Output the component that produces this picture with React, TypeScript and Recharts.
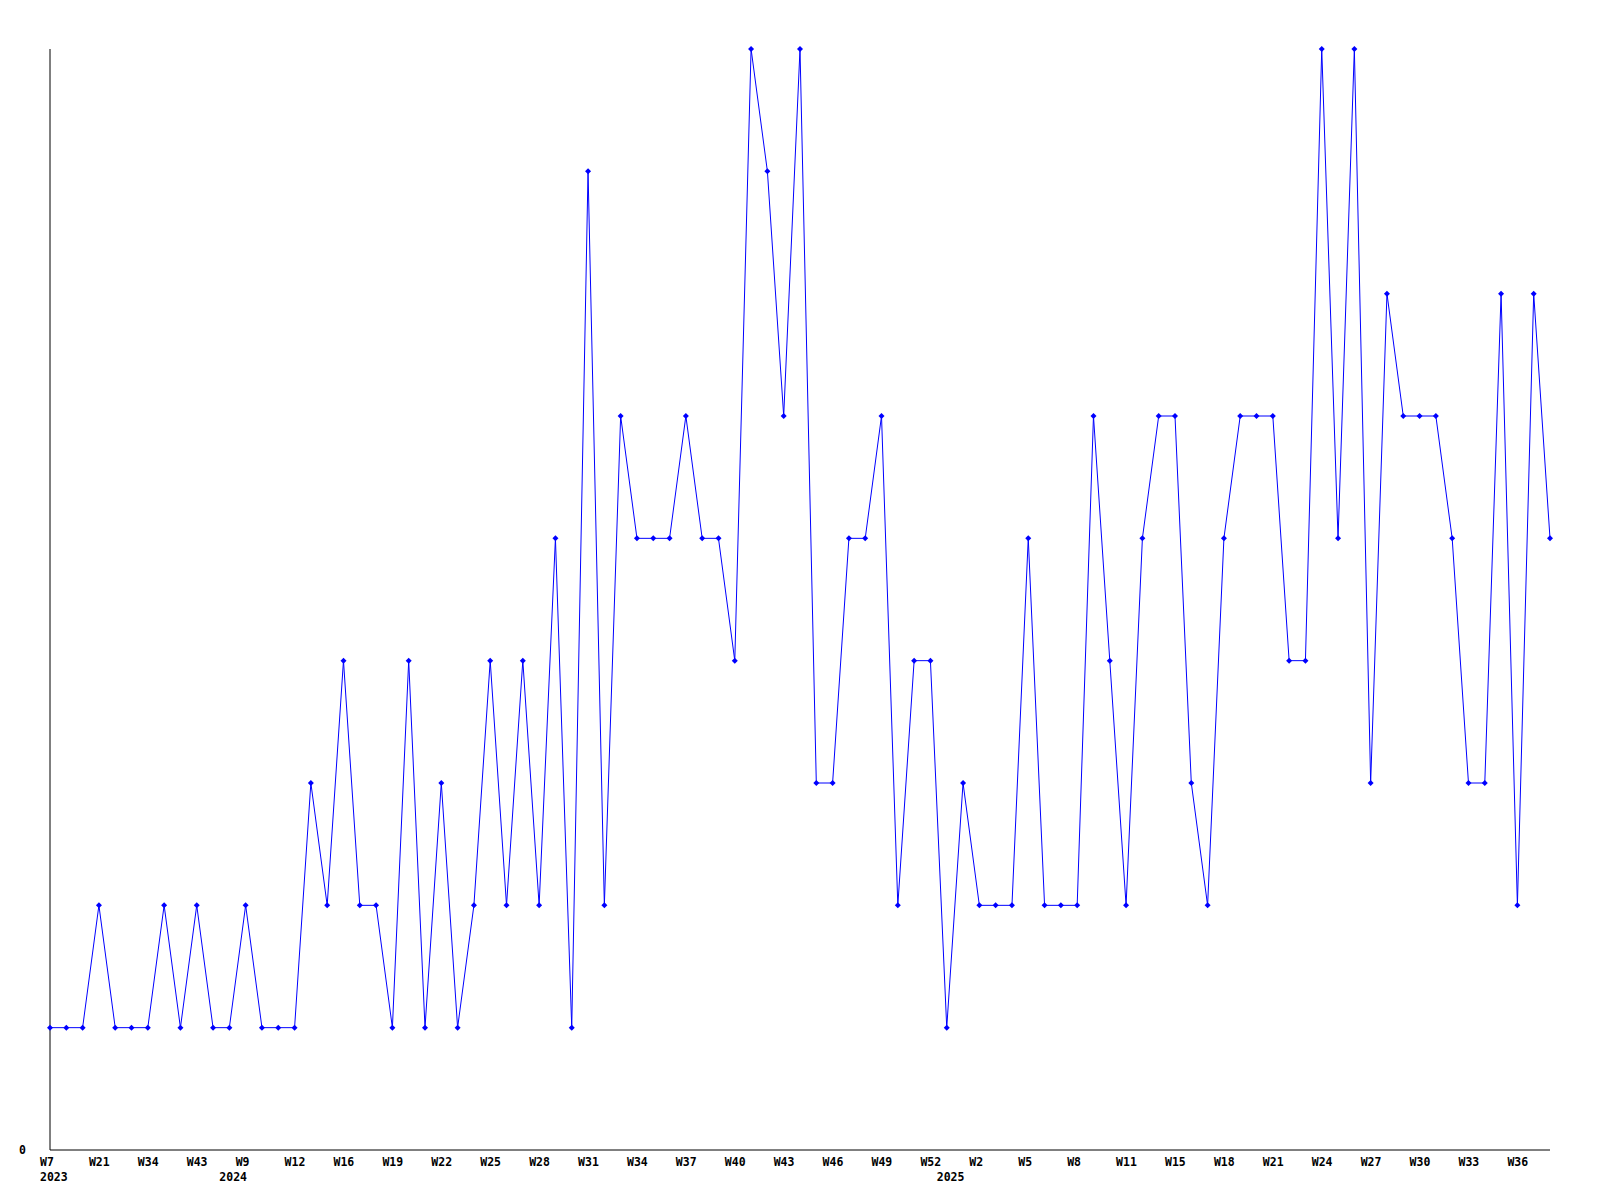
import React from "react";
import { LineChart, Line, XAxis, YAxis } from "recharts";

const weeks: string[] = [
  "W7", "W12", "W17", "W21", "W25", "W30", "W34", "W37", "W40", "W43", "W48",
  "W4", "W9", "W10", "W11", "W12", "W13", "W15", "W16", "W17", "W18", "W19",
  "W20", "W21", "W22", "W23", "W24", "W25", "W26", "W27", "W28", "W29", "W30",
  "W31", "W32", "W33", "W34", "W35", "W36", "W37", "W38", "W39", "W40", "W41",
  "W42", "W43", "W44", "W45", "W46", "W47", "W48", "W49", "W50", "W51", "W52",
  "W0", "W1", "W2", "W3", "W4", "W5", "W6", "W7", "W8", "W9", "W10",
  "W11", "W12", "W14", "W15", "W16", "W17", "W18", "W19", "W20", "W21", "W22",
  "W23", "W24", "W25", "W26", "W27", "W28", "W29", "W30", "W31", "W32", "W33",
  "W34", "W35", "W36", "W37", "W38",
];

const years: string[] = [
  ...Array(11).fill("2023"),
  ...Array(44).fill("2024"),
  ...Array(38).fill("2025"),
];

const values: number[] = [
  1, 1, 1, 2, 1, 1, 1, 2, 1, 2, 1, 1, 2, 1, 1, 1, 3, 2, 4, 2, 2, 1, 4, 1, 3, 1,
  2, 4, 2, 4, 2, 5, 1, 8, 2, 6, 5, 5, 5, 6, 5, 5, 4, 9, 8, 6, 9, 3, 3, 5, 5, 6,
  2, 4, 4, 1, 3, 2, 2, 2, 5, 2, 2, 2, 6, 4, 2, 5, 6, 6, 3, 2, 5, 6, 6, 6, 4, 4,
  9, 5, 9, 3, 7, 6, 6, 6, 5, 3, 3, 7, 2, 7, 5,
];

const yTicks: number[] = [0];

const data = values.map((v, i) => ({ i, week: weeks[i], year: years[i], value: v }));

const yearStart = new Set<number>(
  years.map((y, i) => (i === 0 || years[i - 1] !== y ? i : -1)).filter((i) => i >= 0)
);
const weekTicks = data.filter((d) => d.i % 3 === 0).map((d) => d.i);
const xTicks = Array.from(new Set([...weekTicks, ...yearStart])).sort((a, b) => a - b);

const FONT = "'DejaVu Sans Mono', monospace";

const XTick = (props: any) => {
  const { x, y, payload } = props;
  const idx = payload.value as number;
  return (
    <g>
      {idx % 3 === 0 && (
        <text x={x - 10} y={y + 16} textAnchor="start" fontFamily={FONT} fontWeight="bold" fontSize={11.5} fill="#000">
          {weeks[idx]}
        </text>
      )}
      {yearStart.has(idx) && (
        <text x={x - 10} y={y + 31} textAnchor="start" fontFamily={FONT} fontWeight="bold" fontSize={11.5} fill="#000">
          {years[idx]}
        </text>
      )}
    </g>
  );
};

const YTick = (props: any) => {
  const { x, y, payload } = props;
  return (
    <text x={x} y={y + 4} textAnchor="end" fontFamily={FONT} fontWeight="bold" fontSize={11.5} fill="#000">
      {payload.value}
    </text>
  );
};

const Dot = (props: any) => {
  const { cx, cy } = props;
  if (cx == null || cy == null) return null;
  return (
    <path
      d={`M${cx},${cy - 3} L${cx + 3},${cy} L${cx},${cy + 3} L${cx - 3},${cy} Z`}
      fill="#0000ff"
      stroke="none"
    />
  );
};

export default function App() {
  return (
    <div style={{ width: 1600, height: 1200 }}>
      <LineChart
        width={1600}
        height={1200}
        data={data}
        margin={{ top: 41, right: 58, left: 0, bottom: 18 }}
      >
        <XAxis
          dataKey="i"
          type="number"
          domain={[0, values.length - 1]}
          ticks={xTicks}
          interval={0}
          tick={<XTick />}
          tickLine={false}
          tickSize={0}
          tickMargin={0}
          height={40}
          axisLine={{ stroke: "#000", strokeWidth: 1 }}
        />
        <YAxis
          type="number"
          domain={[0, 9]}
          ticks={yTicks}
          width={42}
          tick={<YTick />}
          tickLine={false}
          tickSize={0}
          tickMargin={24}
          axisLine={{ stroke: "#000", strokeWidth: 1 }}
        />
        <Line
          type="linear"
          dataKey="value"
          stroke="#0000ff"
          strokeWidth={1}
          dot={<Dot />}
          activeDot={false}
          isAnimationActive={false}
        />
      </LineChart>
    </div>
  );
}
